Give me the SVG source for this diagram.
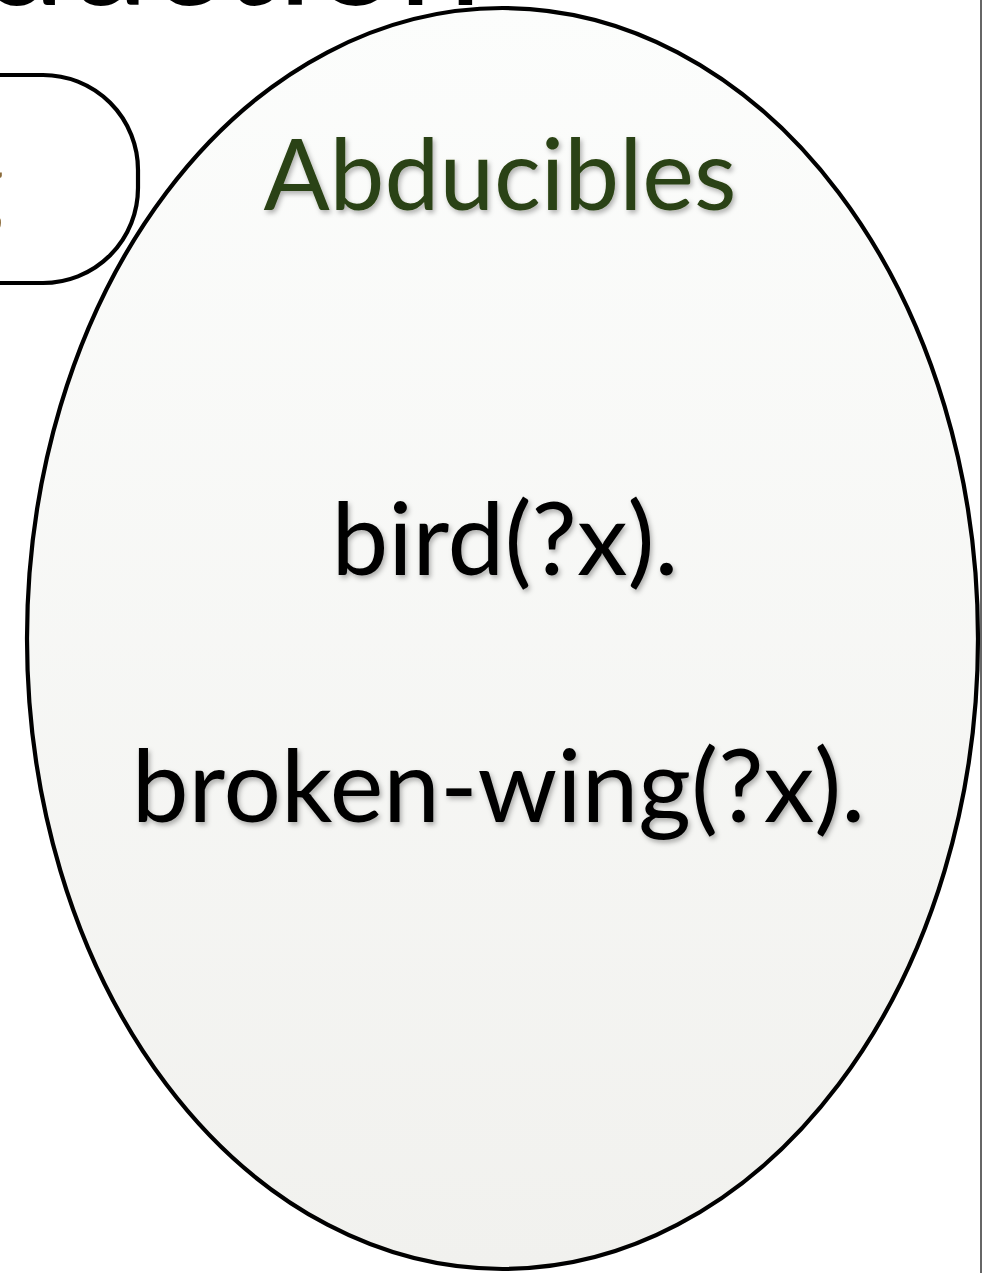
<svg xmlns="http://www.w3.org/2000/svg" width="982" height="1273" viewBox="0 0 982 1273">
  <style>
    .gill { font-family: "Lato", "Open Sans", "Liberation Sans", sans-serif; }
    .title { font-size: 150px; fill: #000; }
    .head { font-size: 98px; fill: #2b4313; }
    .body { font-size: 101.5px; fill: #000; }
    .shape { stroke: #000; stroke-width: 4.2; }
  </style>
  <defs>
    <linearGradient id="ellFill" x1="0" y1="0" x2="0" y2="1">
      <stop offset="0" stop-color="#fcfdfc"/>
      <stop offset="1" stop-color="#f1f1ee"/>
    </linearGradient>
    <filter id="shadow" x="-10%" y="-20%" width="120%" height="150%">
      <feDropShadow dx="2" dy="3" stdDeviation="2.5" flood-color="#000" flood-opacity="0.3"/>
    </filter>
  </defs>
  <rect x="0" y="0" width="982" height="1273" fill="#fff"/>
  <g id="title">
    <text class="gill title" x="482" y="5" text-anchor="end">Abduction</text>
  </g>
  <g id="left-box">
    <rect class="shape" x="-300" y="75" width="438" height="208" rx="95" ry="95" fill="#fff"/>
    <text class="gill" x="4" y="222" text-anchor="end" font-size="100" fill="#8a6a3a">g</text>
  </g>
  <g id="connectors"></g>
  <g id="abducibles">
    <ellipse class="shape" cx="502.5" cy="638.5" rx="475.5" ry="630.5" fill="url(#ellFill)"/>
    <text class="gill head" x="500" y="210" text-anchor="middle" filter="url(#shadow)">Abducibles</text>
    <text class="gill body" x="505" y="575" text-anchor="middle" filter="url(#shadow)">bird(?x).</text>
    <text class="gill body" x="498.5" y="822" text-anchor="middle" filter="url(#shadow)">broken-wing(?x).</text>
  </g>
  <line x1="981" y1="0" x2="981" y2="1273" stroke="#666" stroke-width="2"/>
</svg>
